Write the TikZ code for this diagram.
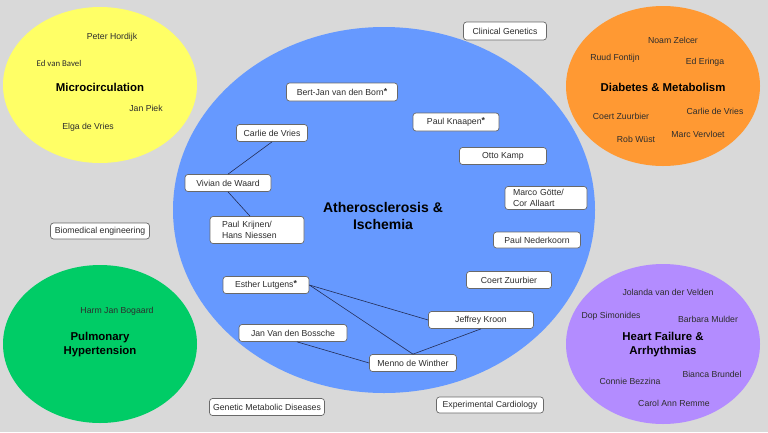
\documentclass[tikz,border=0pt]{standalone}
\usepackage{fontspec}
\setmainfont{Liberation Sans}
\newfontfamily\carlito{Carlito}
\usepackage{xcolor}
\definecolor{bggray}{RGB}{217,217,217}
\definecolor{microfill}{RGB}{255,255,102}
\definecolor{diabfill}{RGB}{255,153,51}
\definecolor{atherofill}{RGB}{102,153,255}
\definecolor{pulmfill}{RGB}{0,204,102}
\definecolor{heartfill}{RGB}{179,140,255}
\definecolor{boxframe}{RGB}{105,105,105}
\definecolor{nametext}{RGB}{45,45,45}
\definecolor{linkblue}{RGB}{35,45,85}
\usepackage{tikz}
\newcommand{\lead}{\raisebox{1.5pt}{\bfseries *}}

\begin{document}
\begin{tikzpicture}[
  x=1pt, y=-1pt,
  box/.style={
    draw=boxframe, fill=white, rounded corners=3pt, line width=0.7pt,
    minimum height=17pt, inner sep=2pt, align=center,
    font=\fontsize{8.7}{11.5}\selectfont, text=nametext,
  },
  twoline/.style={box, align=left},
  member/.style={font=\fontsize{8.7}{11}\selectfont, text=nametext, inner sep=0pt},
  topic/.style={font=\bfseries\fontsize{11.4}{14}\selectfont, align=center, inner sep=0pt},
  link/.style={draw=linkblue, line width=0.6pt},
]
\fill[bggray] (0,0) rectangle (768,432);
\useasboundingbox (0,0) rectangle (768,432);

% research themes
\fill[microfill]  (100,85)  ellipse [x radius=97pt,  y radius=78pt];
\fill[diabfill]   (663,86)  ellipse [x radius=97pt,  y radius=80pt];
\fill[atherofill] (384,210) ellipse [x radius=211pt, y radius=183pt];
\fill[pulmfill]   (100,344) ellipse [x radius=97pt,  y radius=79pt];
\fill[heartfill]  (663,344) ellipse [x radius=97pt,  y radius=80pt];

% Microcirculation
\node[member] (hordijk)  at (112,37)  {Peter Hordijk};
\node[member, font=\carlito\fontsize{8.8}{11}\selectfont] (bavel) at (59,63) {Ed van Bavel};
\node[topic]  (micro)    at (100,87)  {Microcirculation};
\node[member] (piek)     at (146,108) {Jan Piek};
\node[member] (elga)     at (88,127)  {Elga de Vries};

% Diabetes & Metabolism
\node[member] (zelcer)   at (673,40)  {Noam Zelcer};
\node[member] (fontijn)  at (615,58)  {Ruud Fontijn};
\node[member] (eringa)   at (705,62)  {Ed Eringa};
\node[topic]  (diabetes) at (663,87)  {Diabetes \& Metabolism};
\node[member] (vriesdm)  at (715,111) {Carlie de Vries};
\node[member] (zuurbdm)  at (621,116) {Coert Zuurbier};
\node[member] (vervloet) at (698,134) {Marc Vervloet};
\node[member] (wust)     at (636,139) {Rob Wüst};

% Pulmonary Hypertension
\node[member] (bogaard)  at (117,311) {Harm Jan Bogaard};
\node[topic]  (pulm)     at (100,345) {Pulmonary\\Hypertension};

% Heart Failure & Arrhythmias
\node[member] (velden)   at (668,292) {Jolanda van der Velden};
\node[member] (simonides) at (611,316) {Dop Simonides};
\node[member] (mulder)   at (708,319) {Barbara Mulder};
\node[topic]  (heart)    at (663,345) {Heart Failure \&\\Arrhythmias};
\node[member] (brundel)  at (712,374) {Bianca Brundel};
\node[member] (bezzina)  at (630,381) {Connie Bezzina};
\node[member] (remme)    at (674,403) {Carol Ann Remme};

% Atherosclerosis & Ischemia
\node[topic, font=\bfseries\fontsize{14}{17.5}\selectfont] (athero) at (383,216) {Atherosclerosis \&\\Ischemia};
\node[box, minimum width=111pt, minimum height=18pt] (born)    at (342,92)  {Bert-Jan van den Born\lead};
\node[box, minimum width=71pt]                       (vriesai) at (272,133) {Carlie de Vries};
\node[box, minimum width=86pt]                       (waard)   at (228,183) {Vivian de Waard};
\node[twoline, text width=70pt, inner xsep=12pt, minimum height=27pt] (krijnen) at (257,230) {Paul Krijnen/\\Hans Niessen};
\node[box, minimum width=86pt, minimum height=18pt]  (knaapen) at (456,122) {Paul Knaapen\lead};
\node[box, minimum width=87pt]                       (kamp)    at (503,156) {Otto Kamp};
\node[twoline, text width=66pt, inner xsep=8pt, minimum height=23pt, font=\fontsize{8.7}{11}\selectfont] (gotte) at (546,198) {Marco Götte/\\Cor Allaart};
\node[box, minimum width=87pt, minimum height=16pt]  (nederkoorn) at (537,240) {Paul Nederkoorn};
\node[box, minimum width=85pt]                       (zuurbai) at (509,280) {Coert Zuurbier};
\node[box, minimum width=86pt]                       (lutgens) at (266,285) {Esther Lutgens\lead};
\node[box, minimum width=105pt]                      (kroon)   at (481,320) {Jeffrey Kroon};
\node[box, minimum width=108pt]                      (bossche) at (293,333) {Jan Van den Bossche};
\node[box, minimum width=87pt]                       (winther) at (413,363) {Menno de Winther};

% departments outside the themes
\node[box, minimum width=83pt, minimum height=18pt]  (clingen) at (505,31)  {Clinical Genetics};
\node[box, minimum width=99pt, minimum height=16pt]  (biomed)  at (100,231) {Biomedical engineering};
\node[box, minimum width=115pt]                      (genetic) at (267,407) {Genetic Metabolic Diseases};
\node[box, minimum width=107pt, minimum height=16pt] (expcard) at (490,405) {Experimental Cardiology};

% collaborations
\draw[link] (vriesai.south) -- (waard.north);
\draw[link] (waard.south) -- ([xshift=-7pt]krijnen.north);
\draw[link] (lutgens.east) -- (kroon.west);
\draw[link] (lutgens.east) -- (winther.north);
\draw[link] (kroon.south) -- (winther.north);
\draw[link] ([xshift=4pt]bossche.south) -- (winther.west);
\end{tikzpicture}
\end{document}
